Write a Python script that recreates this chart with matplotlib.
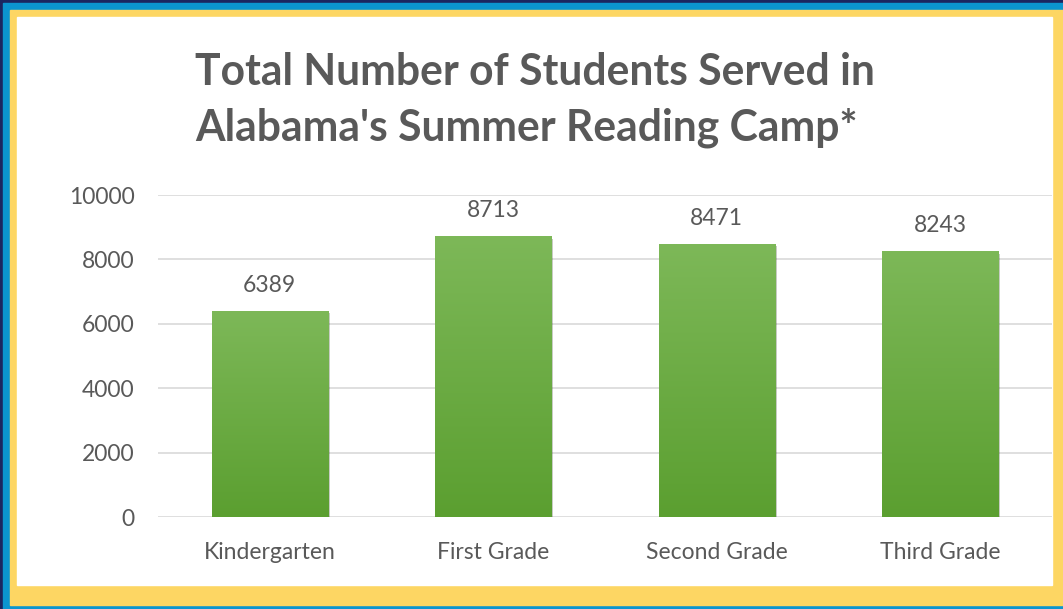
import matplotlib.pyplot as plt
import matplotlib.patheffects as pe
from matplotlib.patches import Rectangle
import numpy as np

grades = ["Kindergarten", "First Grade", "Second Grade", "Third Grade"]
students = [6389, 8713, 8471, 8243]
yticks = [0, 2000, 4000, 6000, 8000, 10000]

W, H = 1063, 609
fig = plt.figure(figsize=(W / 100, H / 100), dpi=100, facecolor="#1b2660")
plt.rcParams["font.family"] = ["Lato", "DejaVu Sans"]


# frame bands, given in pixels from the top-left corner
def band(x0, y0, x1, y1, color):
    fig.patches.append(Rectangle((x0 / W, 1 - y1 / H), (x1 - x0) / W, (y1 - y0) / H,
                                 transform=fig.transFigure, color=color, zorder=-10))


band(3, 3, 1063, 609, "#0b95cf")
band(10, 10, 1063, 605, "#fdd663")
band(17, 17, 1052, 585, "#ffffff")

ax = fig.add_axes([158 / W, 1 - 517 / H, (1052 - 158) / W, (517 - 195) / H])
ax.set_facecolor("none")

x = np.arange(len(grades))
bars = ax.bar(x, students, width=0.52, color="#6aab3e", zorder=3,
              path_effects=[pe.SimplePatchShadow(offset=(1.5, -1.5), alpha=0.25), pe.Normal()])

# vertical gradient on each bar
grad = np.linspace(0, 1, 256).reshape(-1, 1)
cmap = plt.matplotlib.colors.LinearSegmentedColormap.from_list("g", ["#5b9f30", "#7db858"])
for b in bars:
    ax.imshow(grad, cmap=cmap, aspect="auto", origin="lower", zorder=4,
              extent=[b.get_x(), b.get_x() + b.get_width(), 0, b.get_height()])

ax.set_xlim(-0.5, len(grades) - 0.5)
ax.set_ylim(0, 10000)
ax.set_yticks(yticks)
ax.set_xticks(x)
ax.set_xticklabels(grades)
ax.grid(axis="y", color="#d9d9d9", linewidth=1.2, zorder=0)
ax.set_axisbelow(True)
for s in ax.spines.values():
    s.set_visible(False)
ax.tick_params(length=0, colors="#595959", labelsize=16.5)
ax.tick_params(axis="y", pad=17)
ax.tick_params(axis="x", pad=18)

for b, v in zip(bars, students):
    ax.annotate(str(v), (b.get_x() + b.get_width() / 2, v), xytext=(0, 11),
                textcoords="offset points", ha="center", va="bottom",
                fontsize=16.5, color="#595959")

fig.text(0.503, 1 - 100 / H, "Total Number of Students Served in\nAlabama's Summer Reading Camp*",
         ha="center", va="center", multialignment="left", fontsize=30.7,
         fontweight="bold", color="#595959", linespacing=1.45)

fig.savefig("out.png", dpi=100, facecolor=fig.get_facecolor())
